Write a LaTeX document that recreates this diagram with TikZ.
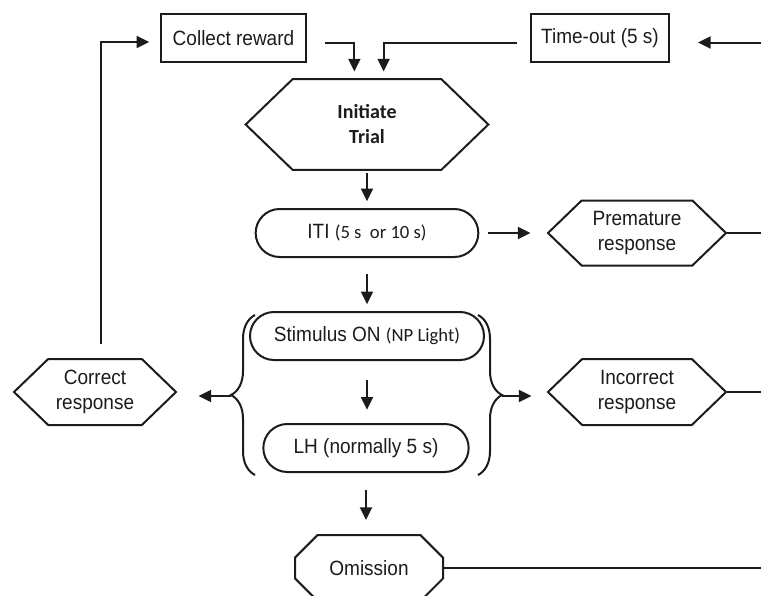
\documentclass[tikz,border=0pt]{standalone}
\usepackage{fontspec}
\setmainfont{Liberation Sans}[FakeStretch=0.92]
\newfontfamily\calibri{Carlito}
\usetikzlibrary{shapes.misc,shapes.symbols,arrows.meta,decorations.pathreplacing,calc}
\definecolor{inkblack}{RGB}{28,28,28}
\newcommand{\cnote}[1]{{\calibri\fontsize{14}{16}\selectfont #1}}

\begin{document}
\begin{tikzpicture}[x=0.75pt, y=-0.75pt,
  every node/.style={font=\fontsize{15.5}{18.75}\selectfont, text=inkblack, align=center, inner sep=0pt},
  box/.style={rectangle, draw=inkblack, line width=1.5pt, minimum height=36pt},
  hexa/.style={signal, signal to=west and east, signal pointer angle=88, draw=inkblack, line width=1.5pt},
  pill/.style={rounded rectangle, draw=inkblack, line width=1.5pt, minimum height=36pt},
  octa/.style={chamfered rectangle, chamfered rectangle xsep=12pt, chamfered rectangle ysep=11.25pt,
    draw=inkblack, line width=1.5pt},
  arr/.style={-{Triangle[length=9.5pt,width=9pt]}, inkblack, line width=1.5pt},
  link/.style={inkblack, line width=1.5pt},
  curly/.style={decorate, decoration={brace, amplitude=18pt}, inkblack, line width=1.5pt}]
\fill[white] (0,0) rectangle (761,596);
\useasboundingbox (0,0) rectangle (761,596);
% boxes
\node[box, minimum width=108.75pt] (reward) at (233.5,38) {Collect reward};
\node[box, minimum width=103.5pt] (timeout) at (600,38) {Time-out (5 s)};
\node[hexa, minimum width=182pt, minimum height=68pt,
  font=\calibri\bfseries\fontsize{15}{18.75}\selectfont] (init) at (367,124.5) {Initiate\\Trial};
\node[pill, minimum width=167pt] (iti) at (367,233) {ITI \cnote{(5 s\ \ or 10 s)}};
\node[hexa, minimum width=133.5pt, minimum height=48.75pt] (prem) at (637,233) {Premature\\response};
\node[pill, minimum width=175.5pt] (stim) at (367,336) {Stimulus ON \cnote{(NP Light)}};
\node[pill, minimum width=154pt] (lh) at (366,448) {LH (normally 5 s)};
\node[hexa, minimum width=121.5pt, minimum height=49.5pt] (correct) at (95,392) {Correct\\response};
\node[hexa, minimum width=133.5pt, minimum height=49.5pt] (incorrect) at (637,392) {Incorrect\\response};
\node[octa, minimum width=111pt, minimum height=49.5pt] (omit) at (369,568) {Omission};
% braces round the stimulus window
\draw[curly] (255,475) -- (255,315);
\draw[curly] (478,315) -- (478,475);
\coordinate (ltip) at (231,396);
\coordinate (rtip) at (502,396);
\coordinate (back) at (763,42.5);
% flow
\foreach \a/\b/\s/\e in {init/iti/1.5/5, iti/stim/12/5, stim/lh/14/10, lh/omit/12.75/10.5}
  \draw[arr, shorten <=\s pt, shorten >=\e pt] (\a.south) -- (\a.south |- \b.north);
\draw[arr, shorten <=6.75pt, shorten >=12pt] (iti.east) -- (iti.east -| prem.west);
\draw[arr, shorten >=15.75pt] (ltip) -- (ltip -| correct.east);
\draw[arr, shorten >=11.25pt] (rtip) -- (rtip -| incorrect.west);
\draw[arr, shorten >=5pt] ([xshift=13.5pt,yshift=-3.75pt]reward.east) -| ([xshift=-9.5pt]init.north);
\draw[arr, shorten >=5pt] ([xshift=-9.75pt,yshift=-3.75pt]timeout.west) -| ([xshift=12.5pt]init.north);
\draw[arr, shorten <=10.5pt, shorten >=8pt] ([xshift=4.5pt]correct.north) |- ([yshift=-3pt]reward.west);
% return to time-out
\draw[link] (prem.east) -- (prem.east -| back);
\draw[link] (incorrect.east) -- (incorrect.east -| back);
\draw[link] (omit.east) -- (omit.east -| back) -- (back);
\draw[arr, shorten >=21pt] (back) -- (back -| timeout.east);
\end{tikzpicture}
\end{document}
